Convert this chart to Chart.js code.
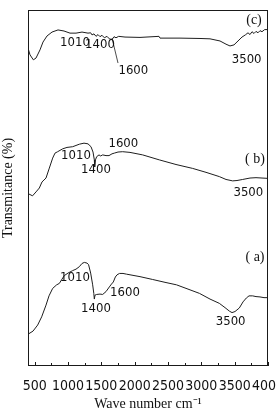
<!DOCTYPE html>
<html lang="en">
<head>
<meta charset="UTF-8">
<title>FTIR spectra</title>
<script src="https://cdn.jsdelivr.net/npm/chart.js"></script>
<style>
    body { margin: 0; background: #fff; overflow: hidden; }
    #wrap { width: 290px; height: 413px; }
</style>
</head>
<body>
<div id="wrap"><canvas id="ftirChart" width="290" height="413"></canvas></div>
<script>
// wave numbers (cm-1) and transmittance readings, curves stacked with an offset
const waveA = [415, 475, 545, 605, 670, 715, 770, 830, 870, 910, 945, 1000, 1070, 1120, 1170, 1210, 1245, 1285, 1308, 1340, 1370, 1387, 1395, 1405, 1430, 1480, 1520, 1570, 1620, 1652, 1680, 1710, 1735, 1772, 1825, 1877, 2080, 2270, 2455, 2628, 2800, 2972, 3130, 3270, 3355, 3422, 3460, 3505, 3570, 3625, 3675, 3715, 3770, 3820, 3880, 3940, 4000];
const transA = [9.1, 9.8, 11.5, 13.8, 17.1, 19.7, 21.8, 22.8, 23.2, 24.4, 25.4, 26.1, 26.8, 27.2, 27.9, 28.8, 29.1, 28.9, 28.5, 26.1, 22.8, 20.4, 18.8, 19.9, 20.1, 20.2, 20.1, 20.9, 22.2, 23.0, 23.6, 25.0, 25.6, 26.0, 26.0, 25.8, 25.1, 24.3, 23.5, 22.8, 21.6, 20.4, 18.8, 17.6, 16.4, 15.4, 15.0, 15.3, 16.3, 18.0, 19.1, 19.7, 19.7, 19.5, 19.4, 19.2, 19.2];

const waveB = [415, 468, 520, 570, 610, 670, 720, 770, 805, 845, 920, 985, 1070, 1170, 1240, 1300, 1345, 1375, 1395, 1400, 1412, 1430, 1465, 1490, 1520, 1570, 1615, 1660, 1695, 1750, 1820, 1930, 2120, 2370, 2620, 2870, 3070, 3270, 3370, 3470, 3535, 3620, 3730, 3820, 3910, 4000];
const transB = [48.3, 47.8, 48.9, 50.0, 51.7, 52.8, 55.6, 58.4, 59.8, 60.2, 61.0, 61.4, 61.6, 62.3, 62.6, 62.4, 61.6, 60.1, 57.9, 55.9, 57.9, 58.8, 59.3, 59.0, 59.3, 59.1, 59.1, 59.6, 59.8, 60.1, 60.2, 60.0, 59.3, 57.9, 56.6, 55.5, 54.4, 53.2, 52.4, 52.0, 52.1, 52.4, 52.8, 52.9, 52.8, 52.7];

const waveC = [408, 430, 480, 520, 580, 625, 685, 760, 850, 940, 1030, 1120, 1210, 1300, 1340, 1360, 1390, 1420, 1450, 1480, 1510, 1545, 1585, 1620, 1660, 1690, 1720, 1760, 1855, 2080, 2365, 2380, 2680, 2980, 3130, 3280, 3370, 3430, 3490, 3550, 3610, 3660, 3700, 3730, 3760, 3790, 3820, 3850, 3880, 3910, 3950, 4000];
const transC = [88.8, 87.4, 86.0, 86.5, 88.8, 91.0, 92.7, 93.8, 94.4, 94.1, 93.5, 93.5, 93.8, 93.5, 93.6, 93.0, 93.3, 92.6, 93.1, 92.5, 92.9, 92.2, 92.6, 91.9, 91.7, 92.5, 92.2, 92.6, 92.4, 92.3, 92.6, 92.1, 92.1, 92.0, 91.9, 91.3, 90.4, 89.9, 90.2, 91.3, 92.4, 93.0, 93.6, 93.1, 93.9, 93.4, 94.0, 93.6, 94.2, 93.9, 94.5, 94.5];

// leader line from the 1600 band of curve (c) to its label
const leaderX = [1660, 1750];
const leaderY = [92.1, 85.1];

// peak labels (text, wave number, transmittance where the text sits)
const peakText = ['1010', '1400', '1600', '3500', '1010', '1400', '1600', '3500', '1010', '1400', '1600', '3500'];
const peakX = [1105, 1480, 1980, 3680, 1120, 1420, 1830, 3705, 1105, 1420, 1855, 3440];
const peakY = [90.8, 90.2, 82.9, 86.2, 59.2, 55.2, 62.5, 48.7, 24.9, 16.2, 20.7, 12.4];

// sample names
const sampleText = ['(c)', '( b)', '( a)'];
const sampleX = [3790, 3805, 3805];
const sampleY = [97.0, 58.0, 30.4];

const xTicks = [500, 1000, 1500, 2000, 2500, 3000, 3500, 4000];
const xMinorTicks = [750, 1250, 1750, 2250, 2750, 3250, 3750];

const toPoints = (xs, ys) => xs.map((v, i) => ({ x: v, y: ys[i] }));

const sansNarrow = "'Liberation Sans Narrow', 'DejaVu Sans Condensed', 'Liberation Sans', Arial, sans-serif";
const serif = "'Liberation Serif', 'Times New Roman', serif";

const decor = {
    id: 'decor',
    afterDraw(chart) {
        const { ctx, chartArea: a, scales: { x, y } } = chart;
        ctx.save();
        ctx.strokeStyle = '#1a1a1a';
        ctx.lineWidth = 1;
        ctx.strokeRect(a.left + 0.5, a.top + 0.5, a.right - a.left - 1, a.bottom - a.top - 1);

        // inward ticks on the bottom axis
        ctx.beginPath();
        xTicks.concat(xMinorTicks).forEach(v => {
            const px = Math.round(x.getPixelForValue(v)) + 0.5;
            const len = xTicks.includes(v) ? 4 : 3;
            ctx.moveTo(px, a.bottom);
            ctx.lineTo(px, a.bottom - len);
        });
        ctx.stroke();

        ctx.fillStyle = '#111';
        ctx.textAlign = 'center';
        ctx.textBaseline = 'middle';
        ctx.font = '13px ' + sansNarrow;
        peakText.forEach((t, i) => {
            ctx.fillText(t, x.getPixelForValue(peakX[i]), y.getPixelForValue(peakY[i]));
        });
        ctx.font = '14px ' + serif;
        sampleText.forEach((t, i) => {
            ctx.fillText(t, x.getPixelForValue(sampleX[i]), y.getPixelForValue(sampleY[i]));
        });
        ctx.restore();
    }
};

const lineStyle = { borderColor: '#1e1e1e', borderWidth: 1, pointRadius: 0, tension: 0, fill: false };

new Chart(document.getElementById('ftirChart'), {
    type: 'line',
    data: {
        datasets: [
            { ...lineStyle, label: '(a)', data: toPoints(waveA, transA) },
            { ...lineStyle, label: '(b)', data: toPoints(waveB, transB) },
            { ...lineStyle, label: '(c)', data: toPoints(waveC, transC) },
            { ...lineStyle, label: 'leader', borderWidth: 0.8, data: toPoints(leaderX, leaderY) }
        ]
    },
    options: {
        responsive: false,
        animation: false,
        layout: { padding: { top: 10, right: 22, left: 0, bottom: 0 } },
        plugins: { legend: { display: false }, tooltip: { enabled: false } },
        scales: {
            x: {
                type: 'linear',
                min: 400,
                max: 4000,
                afterFit: s => { s.height = 47; },
                afterBuildTicks: s => { s.ticks = xTicks.map(v => ({ value: v })); },
                grid: { display: false },
                border: { display: false },
                ticks: {
                    autoSkip: false,
                    maxRotation: 0,
                    padding: 4,
                    color: '#111',
                    font: { family: sansNarrow, size: 14 },
                    callback: v => String(v)
                },
                title: {
                    display: true,
                    text: 'Wave number cm\u207B\u00B9',
                    color: '#111',
                    font: { family: serif, size: 14 },
                    padding: { top: 0, bottom: 0 }
                }
            },
            y: {
                min: 0,
                max: 100,
                afterFit: s => { s.width = 28; },
                grid: { display: false },
                border: { display: false },
                ticks: { display: false },
                title: {
                    display: true,
                    text: 'Transmitance (%)',
                    color: '#111',
                    font: { family: serif, size: 14 },
                    padding: { top: 0, bottom: 0 }
                }
            }
        }
    },
    plugins: [decor]
});
</script>
</body>
</html>
